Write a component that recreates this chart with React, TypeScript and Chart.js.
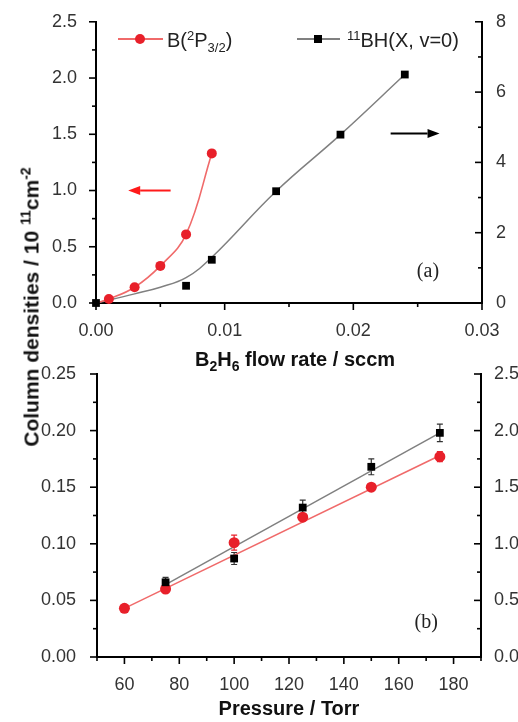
import React, { useEffect, useRef } from 'react';
import { Chart, registerables } from 'chart.js';

Chart.register(...registerables);

const SANS = "'Liberation Sans', Arial, Helvetica, sans-serif";
const SERIF = "'Liberation Serif', 'Times New Roman', serif";

// ---------- Panel (a): column densities vs B2H6 flow rate ----------
const aFlowB = [0, 0.001, 0.003, 0.005, 0.007, 0.009];
const aDensB = [0, 0.035, 0.14, 0.33, 0.61, 1.33];
const aFlowBH = [0, 0.007, 0.009, 0.014, 0.019, 0.024];
const aDensBH = [0, 0.49, 1.23, 3.18, 4.79, 6.5];
const aFitFlowBH = [0, 0.003, 0.005, 0.007, 0.009, 0.014, 0.019, 0.024];
const aFitDensBH = [0, 0.26, 0.45, 0.72, 1.3, 3.18, 4.79, 6.5];

// ---------- Panel (b): column densities vs pressure ----------
const bPressB = [60, 75, 100, 125, 150, 175];
const bDensB = [0.043, 0.06, 0.101, 0.1235, 0.15, 0.177];
const bErrB = [0.001, 0.002, 0.0066, 0.003, 0.0027, 0.0044];
const bPressBH = [75, 100, 125, 150, 175];
const bDensBH = [0.66, 0.87, 1.32, 1.68, 1.98];
const bErrBH = [0.044, 0.053, 0.066, 0.07, 0.078];
const bFitPressB = [60, 175];
const bFitDensB = [0.043, 0.178];
const bFitPressBH = [75, 175];
const bFitDensBH = [0.64, 1.98];

// ---------- tick labels ----------
const aXTicks = [0, 0.01, 0.02, 0.03];
const aXLabels = ['0.00', '0.01', '0.02', '0.03'];
const aYTicks = [0, 0.5, 1, 1.5, 2, 2.5];
const aYLabels = ['0.0', '0.5', '1.0', '1.5', '2.0', '2.5'];
const aY1Ticks = [0, 2, 4, 6, 8];
const aY1Labels = ['0', '2', '4', '6', '8'];
const bXTicks = [60, 80, 100, 120, 140, 160, 180];
const bXLabels = ['60', '80', '100', '120', '140', '160', '180'];
const bYTicks = [0, 0.05, 0.1, 0.15, 0.2, 0.25];
const bYLabels = ['0.00', '0.05', '0.10', '0.15', '0.20', '0.25'];
const bY1Ticks = [0, 0.5, 1, 1.5, 2, 2.5];
const bY1Labels = ['0.0', '0.5', '1.0', '1.5', '2.0', '2.5'];

const RED = '#e8202a';
const RED_LINE = '#f06a6a';
const GRAY_LINE = '#808080';

type Spec = { majors: number[]; labels: string[]; minorStep: number; out: boolean };

const zip = (xs: number[], ys: number[]) => xs.map((x, i) => ({ x, y: ys[i] }));

function scale(position: string, min: number, max: number, spec: Spec, fit: number, pad: number) {
  return {
    type: 'linear',
    position,
    min,
    max,
    grid: { display: false },
    border: { display: true, color: '#000', width: 2 },
    ticks: {
      autoSkip: false,
      maxRotation: 0,
      padding: pad,
      color: '#333',
      font: { family: SANS, size: 18 },
      callback: (v: number) => {
        const i = spec.majors.findIndex((m) => Math.abs(m - v) < 1e-9);
        return i >= 0 ? spec.labels[i] : '';
      },
    },
    afterBuildTicks: (s: any) => {
      const vals: any[] = [];
      for (let k = 0; ; k++) {
        const v = min + k * spec.minorStep;
        if (v > max + 1e-9) break;
        vals.push({ value: +v.toFixed(8) });
      }
      s.ticks = vals;
    },
    afterFit: (s: any) => {
      if (position === 'left' || position === 'right') s.width = fit;
      else s.height = fit;
    },
  };
}

function tickPlugin(specs: Record<string, Spec>) {
  return {
    id: 'tickMarks',
    afterDraw(chart: any) {
      const ctx = chart.ctx;
      ctx.save();
      ctx.strokeStyle = '#000';
      ctx.lineWidth = 1.6;
      for (const id of Object.keys(specs)) {
        const s = chart.scales[id];
        const spec = specs[id];
        const sign = spec.out ? 1 : -1;
        for (const t of s.ticks) {
          const major = spec.majors.some((m) => Math.abs(m - t.value) < 1e-9);
          const len = (major ? 7 : 4) * sign;
          const p = s.getPixelForValue(t.value);
          ctx.beginPath();
          if (s.isHorizontal()) {
            ctx.moveTo(p, s.top);
            ctx.lineTo(p, s.top + len);
          } else if (s.position === 'left') {
            ctx.moveTo(s.right, p);
            ctx.lineTo(s.right - len, p);
          } else {
            ctx.moveTo(s.left, p);
            ctx.lineTo(s.left + len, p);
          }
          ctx.stroke();
        }
      }
      ctx.restore();
    },
  };
}

const errorBarPlugin = {
  id: 'errorBars',
  beforeDatasetsDraw(chart: any) {
    const ctx = chart.ctx;
    ctx.save();
    chart.data.datasets.forEach((ds: any, i: number) => {
      if (!ds.errorBars) return;
      const meta = chart.getDatasetMeta(i);
      const ys = chart.scales[ds.yAxisID || 'y'];
      ctx.strokeStyle = ds.errorColor;
      ctx.lineWidth = 1.2;
      ds.data.forEach((pt: any, j: number) => {
        const x = meta.data[j].x;
        const t = ys.getPixelForValue(pt.y + ds.errorBars[j]);
        const b = ys.getPixelForValue(pt.y - ds.errorBars[j]);
        ctx.beginPath();
        ctx.moveTo(x, t);
        ctx.lineTo(x, b);
        ctx.moveTo(x - 3, t);
        ctx.lineTo(x + 3, t);
        ctx.moveTo(x - 3, b);
        ctx.lineTo(x + 3, b);
        ctx.stroke();
      });
    });
    ctx.restore();
  },
};

type Arrow = { from: number; to: number; y: number; axis: string; color: string };

function annotPlugin(arrows: Arrow[], label: { text: string; x: number; y: number; axis: string }) {
  return {
    id: 'annot',
    afterDatasetsDraw(chart: any) {
      const ctx = chart.ctx;
      const xs = chart.scales.x;
      ctx.save();
      for (const a of arrows) {
        const ys = chart.scales[a.axis];
        const x1 = xs.getPixelForValue(a.from);
        const x2 = xs.getPixelForValue(a.to);
        const y = ys.getPixelForValue(a.y);
        const dir = Math.sign(x2 - x1);
        const hl = 12;
        const hw = 4.5;
        ctx.strokeStyle = a.color;
        ctx.fillStyle = a.color;
        ctx.lineWidth = 2;
        ctx.beginPath();
        ctx.moveTo(x1, y);
        ctx.lineTo(x2 - dir * hl, y);
        ctx.stroke();
        ctx.beginPath();
        ctx.moveTo(x2, y);
        ctx.lineTo(x2 - dir * hl, y - hw);
        ctx.lineTo(x2 - dir * hl, y + hw);
        ctx.closePath();
        ctx.fill();
      }
      const ly = chart.scales[label.axis];
      ctx.fillStyle = '#222';
      ctx.font = `20px ${SERIF}`;
      ctx.textAlign = 'center';
      ctx.textBaseline = 'middle';
      ctx.fillText(label.text, xs.getPixelForValue(label.x), ly.getPixelForValue(label.y));
      ctx.restore();
    },
  };
}

function configA(): any {
  const specs: Record<string, Spec> = {
    x: { majors: aXTicks, labels: aXLabels, minorStep: 0.005, out: true },
    y: { majors: aYTicks, labels: aYLabels, minorStep: 0.25, out: true },
    y1: { majors: aY1Ticks, labels: aY1Labels, minorStep: 1, out: false },
  };
  return {
    type: 'line',
    data: {
      datasets: [
        {
          data: zip(aFlowBH, aDensBH),
          yAxisID: 'y1',
          showLine: false,
          pointStyle: 'rect',
          pointRadius: 5.5,
          pointBackgroundColor: '#000',
          pointBorderColor: '#000',
          pointBorderWidth: 0,
          clip: false,
        },
        {
          data: zip(aFlowB, aDensB),
          yAxisID: 'y',
          borderColor: RED_LINE,
          borderWidth: 1.6,
          tension: 0.4,
          pointStyle: 'circle',
          pointRadius: aFlowB.map((f) => (f === 0 ? 0 : 5)),
          pointBackgroundColor: RED,
          pointBorderColor: RED,
          pointBorderWidth: 0,
          clip: false,
        },
        {
          data: zip(aFitFlowBH, aFitDensBH),
          yAxisID: 'y1',
          borderColor: GRAY_LINE,
          borderWidth: 1.5,
          tension: 0.4,
          pointRadius: 0,
        },
      ],
    },
    options: {
      animation: false,
      responsive: false,
      devicePixelRatio: 1,
      layout: { padding: { left: 0, right: 0, top: 21, bottom: 0 } },
      plugins: { legend: { display: false }, tooltip: { enabled: false } },
      scales: {
        x: scale('bottom', 0, 0.03, specs.x, 42, 9),
        y: scale('left', 0, 2.5, specs.y, 96, 11),
        y1: scale('right', 0, 8, specs.y1, 36, 6),
      },
    },
    plugins: [
      tickPlugin(specs),
      annotPlugin(
        [
          { from: 0.0058, to: 0.0025, y: 1.0, axis: 'y', color: '#ff1a1a' },
          { from: 0.0229, to: 0.0267, y: 4.82, axis: 'y1', color: '#000' },
        ],
        { text: '(a)', x: 0.0258, y: 0.88, axis: 'y1' }
      ),
    ],
  };
}

function configB(): any {
  const specs: Record<string, Spec> = {
    x: { majors: bXTicks, labels: bXLabels, minorStep: 10, out: true },
    y: { majors: bYTicks, labels: bYLabels, minorStep: 0.025, out: true },
    y1: { majors: bY1Ticks, labels: bY1Labels, minorStep: 0.25, out: false },
  };
  return {
    type: 'line',
    data: {
      datasets: [
        {
          data: zip(bPressBH, bDensBH),
          yAxisID: 'y1',
          showLine: false,
          pointStyle: 'rect',
          pointRadius: 5.5,
          pointBackgroundColor: '#000',
          pointBorderColor: '#000',
          pointBorderWidth: 0,
          errorBars: bErrBH,
          errorColor: '#333',
          clip: false,
        },
        {
          data: zip(bPressB, bDensB),
          yAxisID: 'y',
          showLine: false,
          pointStyle: 'circle',
          pointRadius: 5.5,
          pointBackgroundColor: RED,
          pointBorderColor: RED,
          pointBorderWidth: 0,
          errorBars: bErrB,
          errorColor: RED,
          clip: false,
        },
        {
          data: zip(bFitPressBH, bFitDensBH),
          yAxisID: 'y1',
          borderColor: GRAY_LINE,
          borderWidth: 1.5,
          pointRadius: 0,
        },
        {
          data: zip(bFitPressB, bFitDensB),
          yAxisID: 'y',
          borderColor: RED_LINE,
          borderWidth: 1.5,
          pointRadius: 0,
        },
      ],
    },
    options: {
      animation: false,
      responsive: false,
      devicePixelRatio: 1,
      layout: { padding: { left: 0, right: 0, top: 29, bottom: 0 } },
      plugins: { legend: { display: false }, tooltip: { enabled: false } },
      scales: {
        x: scale('bottom', 50, 190, specs.x, 65, 9),
        y: scale('left', 0, 0.25, specs.y, 97, 13),
        y1: scale('right', 0, 2.5, specs.y1, 37, 5),
      },
    },
    plugins: [tickPlugin(specs), errorBarPlugin, annotPlugin([], { text: '(b)', x: 170, y: 0.03, axis: 'y' })],
  };
}

function ChartCanvas({ make, width, height }: { make: () => any; width: number; height: number }) {
  const ref = useRef<HTMLCanvasElement | null>(null);
  useEffect(() => {
    if (!ref.current) return;
    const chart = new Chart(ref.current, make());
    return () => chart.destroy();
  }, [make]);
  return <canvas ref={ref} width={width} height={height} style={{ display: 'block', width, height }} />;
}

const sup = (size: number, top: number): React.CSSProperties => ({
  fontSize: size,
  position: 'relative',
  top,
  lineHeight: 1,
});

export default function App() {
  const abs = (l: number, t: number): React.CSSProperties => ({ position: 'absolute', left: l, top: t });
  return (
    <div style={{ position: 'absolute', left: 0, top: 0, width: 518, height: 722, background: '#fff', overflow: 'hidden' }}>
      <div style={abs(0, 0)}>
        <ChartCanvas make={configA} width={518} height={345} />
      </div>
      <div style={abs(0, 345)}>
        <ChartCanvas make={configB} width={518} height={377} />
      </div>

      {/* legend */}
      <div style={{ ...abs(118, 38), width: 45, height: 1.6, background: RED_LINE }} />
      <div style={{ ...abs(135, 34), width: 10, height: 10, borderRadius: '50%', background: RED }} />
      <div style={{ ...abs(167, 30), fontFamily: SANS, fontSize: 20, lineHeight: 1, color: '#222', whiteSpace: 'nowrap' }}>
        B(<span style={sup(13, -7)}>2</span>P<span style={sup(13, 5)}>3/2</span>)
      </div>
      <div style={{ ...abs(297, 38), width: 43, height: 1.5, background: GRAY_LINE }} />
      <div style={{ ...abs(314, 34.5), width: 8, height: 8, background: '#000' }} />
      <div style={{ ...abs(347, 30), fontFamily: SANS, fontSize: 20, lineHeight: 1, color: '#222', whiteSpace: 'nowrap' }}>
        <span style={sup(13, -7)}>11</span>BH(X, v=0)
      </div>

      {/* axis titles */}
      <div
        style={{
          ...abs(31, 307),
          transform: 'translate(-50%, -50%) rotate(-90deg)',
          fontFamily: SANS,
          fontWeight: 'bold',
          fontSize: 21,
          lineHeight: 1,
          color: '#111',
          whiteSpace: 'nowrap',
        }}
      >
        Column densities / 10 <span style={sup(14, -8)}>11</span>cm<span style={sup(14, -8)}>-2</span>
      </div>
      <div
        style={{
          ...abs(295, 359),
          transform: 'translate(-50%, -50%)',
          fontFamily: SANS,
          fontWeight: 'bold',
          fontSize: 20,
          lineHeight: 1,
          color: '#111',
          whiteSpace: 'nowrap',
        }}
      >
        B<span style={sup(14, 5)}>2</span>H<span style={sup(14, 5)}>6</span> flow rate / sccm
      </div>
      <div
        style={{
          ...abs(289, 708),
          transform: 'translate(-50%, -50%)',
          fontFamily: SANS,
          fontWeight: 'bold',
          fontSize: 20,
          lineHeight: 1,
          color: '#111',
          whiteSpace: 'nowrap',
        }}
      >
        Pressure / Torr
      </div>
    </div>
  );
}
